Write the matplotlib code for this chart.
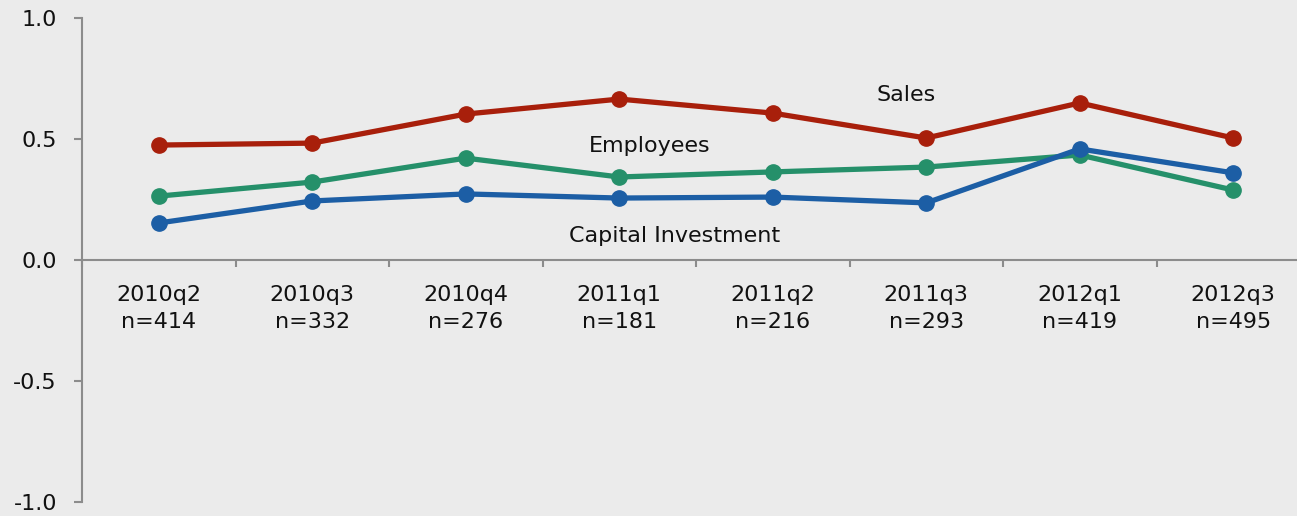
import matplotlib
matplotlib.use("Agg")
import matplotlib.pyplot as plt
import numpy as np

quarters = ["2010q2", "2010q3", "2010q4", "2011q1", "2011q2", "2011q3", "2012q1", "2012q3"]
sample_n = [414, 332, 276, 181, 216, 293, 419, 495]
sales = [0.475, 0.483, 0.603, 0.665, 0.607, 0.504, 0.649, 0.504]
employees = [0.264, 0.322, 0.421, 0.343, 0.364, 0.384, 0.434, 0.289]
capital = [0.153, 0.244, 0.273, 0.256, 0.260, 0.236, 0.459, 0.360]
yticks = [1.0, 0.5, 0.0, -0.5, -1.0]

plt.rcParams['font.family'] = ['DejaVu Sans']

fig = plt.figure(figsize=(12.97, 5.16), dpi=100)
bg = "#ebebeb"
fig.patch.set_facecolor(bg)
ax = fig.add_axes([82/1297, 14/516, 1228/1297, 484/516])
ax.set_facecolor("none")

x = np.arange(len(quarters))
lw = 3.8
ms = 11
ax.plot(x, sales, color="#a81f0b", lw=lw, marker="o", ms=ms, zorder=3)
ax.plot(x, employees, color="#25906a", lw=lw, marker="o", ms=ms, zorder=3)
ax.plot(x, capital, color="#1c5ea5", lw=lw, marker="o", ms=ms, zorder=4)

ax.set_xlim(-0.5, len(quarters) - 0.5)
ax.set_ylim(-1.0, 1.0)

for s in ["top", "right"]:
    ax.spines[s].set_visible(False)
ax.spines["bottom"].set_position(("data", 0))
ax.spines["bottom"].set_color("#8c8c8c")
ax.spines["left"].set_color("#8c8c8c")
ax.spines["bottom"].set_linewidth(1.5)
ax.spines["left"].set_linewidth(1.5)

fs = 16
ax.set_yticks(yticks)
ax.set_yticklabels([f"{v:.1f}" for v in yticks])
ax.tick_params(axis="y", direction="out", length=6, width=1.5, color="#8c8c8c",
               labelsize=fs, pad=12, labelcolor="#111111")

ax.set_xticks(x)
ax.set_xticklabels([f"{q}\nn={n}" for q, n in zip(quarters, sample_n)])
ax.set_xticks(np.arange(-0.5, len(quarters) + 0.5, 1.0), minor=True)
ax.tick_params(axis="x", which="major", length=0, labelsize=fs, pad=18, labelcolor="#111111")
ax.tick_params(axis="x", which="minor", direction="out", length=5, width=1.5, color="#8c8c8c")
for lab in ax.get_xticklabels():
    lab.set_linespacing(1.45)

ax.text(4.87, 0.68, "Sales", fontsize=fs, ha="center", va="center", color="#111111")
ax.text(3.2, 0.47, "Employees", fontsize=fs, ha="center", va="center", color="#111111")
ax.text(3.36, 0.10, "Capital Investment", fontsize=fs, ha="center", va="center", color="#111111")

fig.savefig("out.png", dpi=100, facecolor=bg)
